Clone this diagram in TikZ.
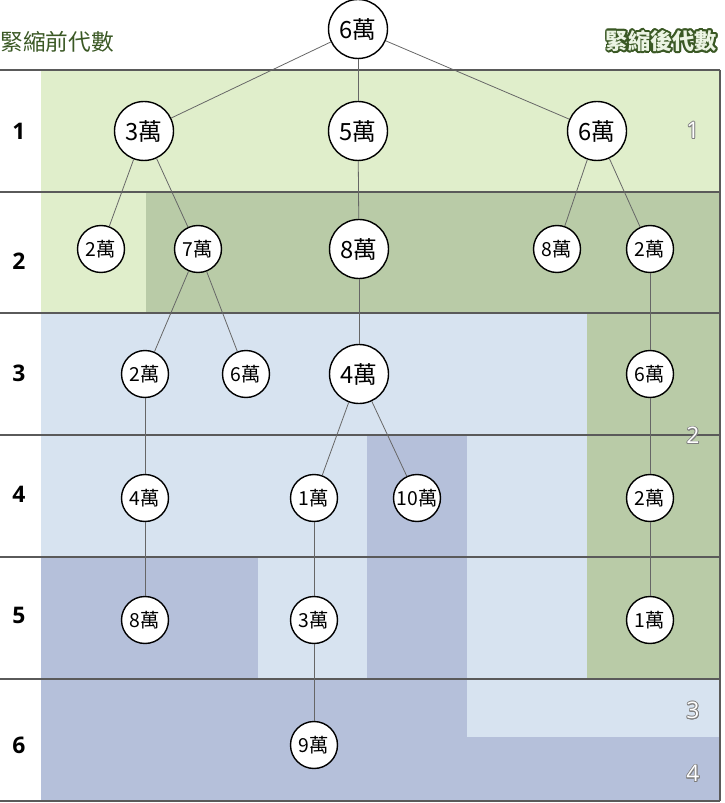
\documentclass[tikz,border=0pt]{standalone}
\usepackage{fontspec}
\setmainfont{Noto Sans CJK TC}
\newfontfamily\genfont{Open Sans}
\usepackage{contour}
\contourlength{0.6pt}
\definecolor{lgreen}{RGB}{224,238,203}
\definecolor{dgreen}{RGB}{185,203,167}
\definecolor{lblue}{RGB}{215,227,240}
\definecolor{dblue}{RGB}{181,192,218}
\definecolor{headgreen}{RGB}{58,88,36}
\definecolor{headfill}{RGB}{236,244,228}
\definecolor{rulegray}{RGB}{90,90,90}

\begin{document}
\begin{tikzpicture}[x=0.02cm, y=-0.02cm, thin,
  big/.style={circle, draw, fill=white, line width=0.8pt, inner sep=0pt,
    minimum size=1.18cm, font=\fontsize{13.5}{13.5}\selectfont},
  small/.style={big, minimum size=0.94cm, font=\fontsize{11}{11}\selectfont},
  edge/.style={draw=gray!80!black, line width=0.45pt},
  gen/.style={font=\genfont\bfseries\fontsize{13}{13}\selectfont},
  after/.style={inner sep=0pt, font=\genfont\fontsize{13}{13}\selectfont}]
  \useasboundingbox (0,0) rectangle (724,803);

  % 色塊
  \fill[lgreen] (41,70) rectangle (720,192);
  \fill[lgreen] (41,192) rectangle (146,313);
  \fill[dgreen] (146,192) rectangle (720,313);
  \fill[lblue] (41,313) rectangle (587,435);
  \fill[dgreen] (587,313) rectangle (720,679);
  \fill[lblue] (41,435) rectangle (367,557);
  \fill[dblue] (367,435) rectangle (467,679);
  \fill[lblue] (467,435) rectangle (587,679);
  \fill[dblue] (41,557) rectangle (258,679);
  \fill[lblue] (258,557) rectangle (367,679);
  \fill[dblue] (41,679) rectangle (720,801);
  \fill[lblue] (467,679) rectangle (720,737);

  % 行線
  \foreach \y in {70,192,313,435,557,679,801}
    \draw[rulegray, line width=0.7pt] (0,\y) -- (720,\y);
  \draw[rulegray, line width=0.7pt] (720,70) -- (720,801);

  % 標題
  \node[anchor=west, inner sep=0pt, text=headgreen,
    font=\fontsize{12.9}{12.9}\selectfont] (before) at (0,42) {緊縮前代數};
  \node[anchor=east, inner sep=0pt, font=\bfseries\fontsize{12.6}{12.6}\selectfont]
    (afterhead) at (717,42)
    {\contourlength{1.1pt}\contour{headgreen}{\textcolor{headfill}{緊縮後代數}}};

  % 代數
  \foreach \n/\y in {1/131, 2/261, 3/373, 4/494, 5/615, 6/745}
    \node[gen] (g\n) at (19,\y) {\n};
  \foreach \n/\y in {1/131, 2/436, 3/711, 4/774}
    \node[after] (h\n) at (693,\y)
      {\contourlength{0.45pt}\contour{gray}{\textcolor{white}{\n}}};

  \node[big] (r) at (358,29) {6萬};
  \node[big] (a1) at (144,131) {3萬};
  \node[big] (a2) at (358,131) {5萬};
  \node[big] (a3) at (597,131) {6萬};
  \node[small] (b1) at (101,249) {2萬};
  \node[small] (b2) at (198,249) {7萬};
  \node[big] (b3) at (359,249) {8萬};
  \node[small] (b4) at (557,249) {8萬};
  \node[small] (b5) at (650,249) {2萬};
  \node[small] (c1) at (145,374) {2萬};
  \node[small] (c2) at (246,374) {6萬};
  \node[big] (c3) at (359,374) {4萬};
  \node[small] (c4) at (650,374) {6萬};
  \node[small] (d1) at (145,498) {4萬};
  \node[small] (d2) at (314,498) {1萬};
  \node[small] (d3) at (417,498) {10萬};
  \node[small] (d4) at (650,498) {2萬};
  \node[small] (e1) at (145,620) {8萬};
  \node[small] (e2) at (314,620) {3萬};
  \node[small] (e3) at (650,620) {1萬};
  \node[small] (f1) at (314,745) {9萬};

  \draw[edge] (r) -- (a1);
  \draw[edge] (r) -- (a2);
  \draw[edge] (r) -- (a3);
  \draw[edge] (a1) -- (b1);
  \draw[edge] (a1) -- (b2);
  \draw[edge] (a2) -- (b3);
  \draw[edge] (a3) -- (b4);
  \draw[edge] (a3) -- (b5);
  \draw[edge] (b2) -- (c1);
  \draw[edge] (b2) -- (c2);
  \draw[edge] (b3) -- (c3);
  \draw[edge] (b5) -- (c4);
  \draw[edge] (c1) -- (d1);
  \draw[edge] (c3) -- (d2);
  \draw[edge] (c3) -- (d3);
  \draw[edge] (c4) -- (d4);
  \draw[edge] (d1) -- (e1);
  \draw[edge] (d2) -- (e2);
  \draw[edge] (d4) -- (e3);
  \draw[edge] (e2) -- (f1);
\end{tikzpicture}
\end{document}
